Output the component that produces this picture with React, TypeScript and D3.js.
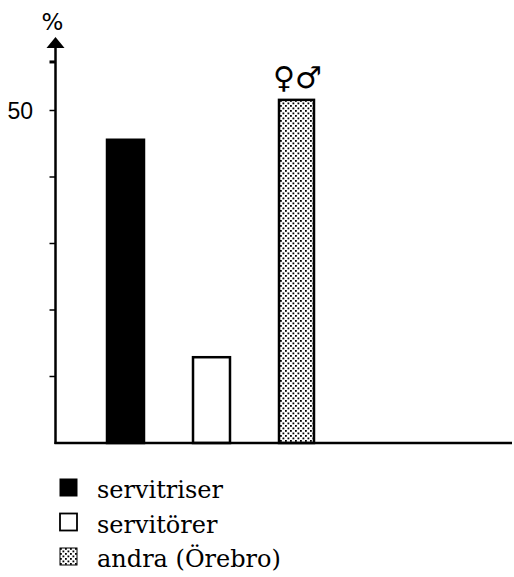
import React from "react";
import * as d3 from "d3";

const categories = ["servitriser", "servitörer", "andra (Örebro)"];
const values = [45.6, 12.9, 51.6];
const yTicks = [10, 20, 30, 40, 50, 57.3];
const yTickLabels = [{ v: 50, label: "50" }];
const fills = ["black", "white", "url(#stipple)"];

export default function App() {
  const W = 514, H = 577;
  const y = d3.scaleLinear().domain([0, 10]).range([443, 376.5]);
  const x = d3
    .scaleBand<string>()
    .domain(categories)
    .range([82.5, 340.5])
    .paddingInner(0.57)
    .paddingOuter(0.285);
  const axisX = 55.5;
  const y0 = y(0);
  return (
    <svg
      width={W}
      height={H}
      style={{ position: "absolute", left: 0, top: 0, background: "white" }}
    >
      <defs>
        <pattern id="stipple" width={5} height={5} patternUnits="userSpaceOnUse">
          <rect width={5} height={5} fill="white" />
          <rect x={0} y={0} width={1.8} height={1.8} fill="black" />
          <rect x={2.5} y={2.5} width={1.8} height={1.8} fill="black" />
        </pattern>
      </defs>
      {/* bars */}
      {categories.map((c, i) => (
        <rect
          key={c}
          x={x(c)!}
          y={y(values[i])}
          width={x.bandwidth() - (i === 2 ? 2 : 0)}
          height={y0 - y(values[i])}
          fill={fills[i]}
          stroke="black"
          strokeWidth={2.5}
        />
      ))}
      {/* baseline */}
      <line x1={axisX - 1} x2={512} y1={y0} y2={y0} stroke="black" strokeWidth={2.5} />
      {/* y axis */}
      <line x1={axisX} x2={axisX} y1={46} y2={y0 + 1} stroke="black" strokeWidth={2.5} />
      <path d={`M${axisX},37 L${axisX + 9},48 L${axisX - 9},48 Z`} fill="black" />
      {yTicks.map((t) => (
        <line
          key={t}
          x1={axisX - 6}
          x2={axisX}
          y1={y(t)}
          y2={y(t)}
          stroke="black"
          strokeWidth={t > 55 ? 3 : 1.5}
        />
      ))}
      {yTickLabels.map((t) => (
        <text
          key={t.label}
          x={33}
          y={y(t.v) + 8}
          textAnchor="end"
          fontFamily="'Liberation Sans', sans-serif"
          fontSize={23}
          fill="black"
        >
          {t.label}
        </text>
      ))}
      <text
        x={axisX - 3}
        y={30}
        textAnchor="middle"
        fontFamily="'DejaVu Sans', sans-serif"
        fontSize={23}
        fill="black"
      >
        %
      </text>
      {/* gender symbols */}
      <text
        x={x(categories[2])! + x.bandwidth() / 2}
        y={88}
        textAnchor="middle"
        fontFamily="'DejaVu Sans', sans-serif"
        fontSize={30}
        fill="black"
      >
        ♀♂
      </text>
      {/* legend */}
      {categories.map((c, i) => (
        <g key={c} transform={`translate(0, ${479 + i * 34.5})`}>
          <rect
            x={60}
            y={0}
            width={17}
            height={17}
            fill={fills[i]}
            stroke="black"
            strokeWidth={i === 1 ? 1.8 : 1}
          />
          <text
            x={97}
            y={19}
            fontFamily="'DejaVu Serif', serif"
            fontSize={24}
            fill="black"
          >
            {c}
          </text>
        </g>
      ))}
    </svg>
  );
}
